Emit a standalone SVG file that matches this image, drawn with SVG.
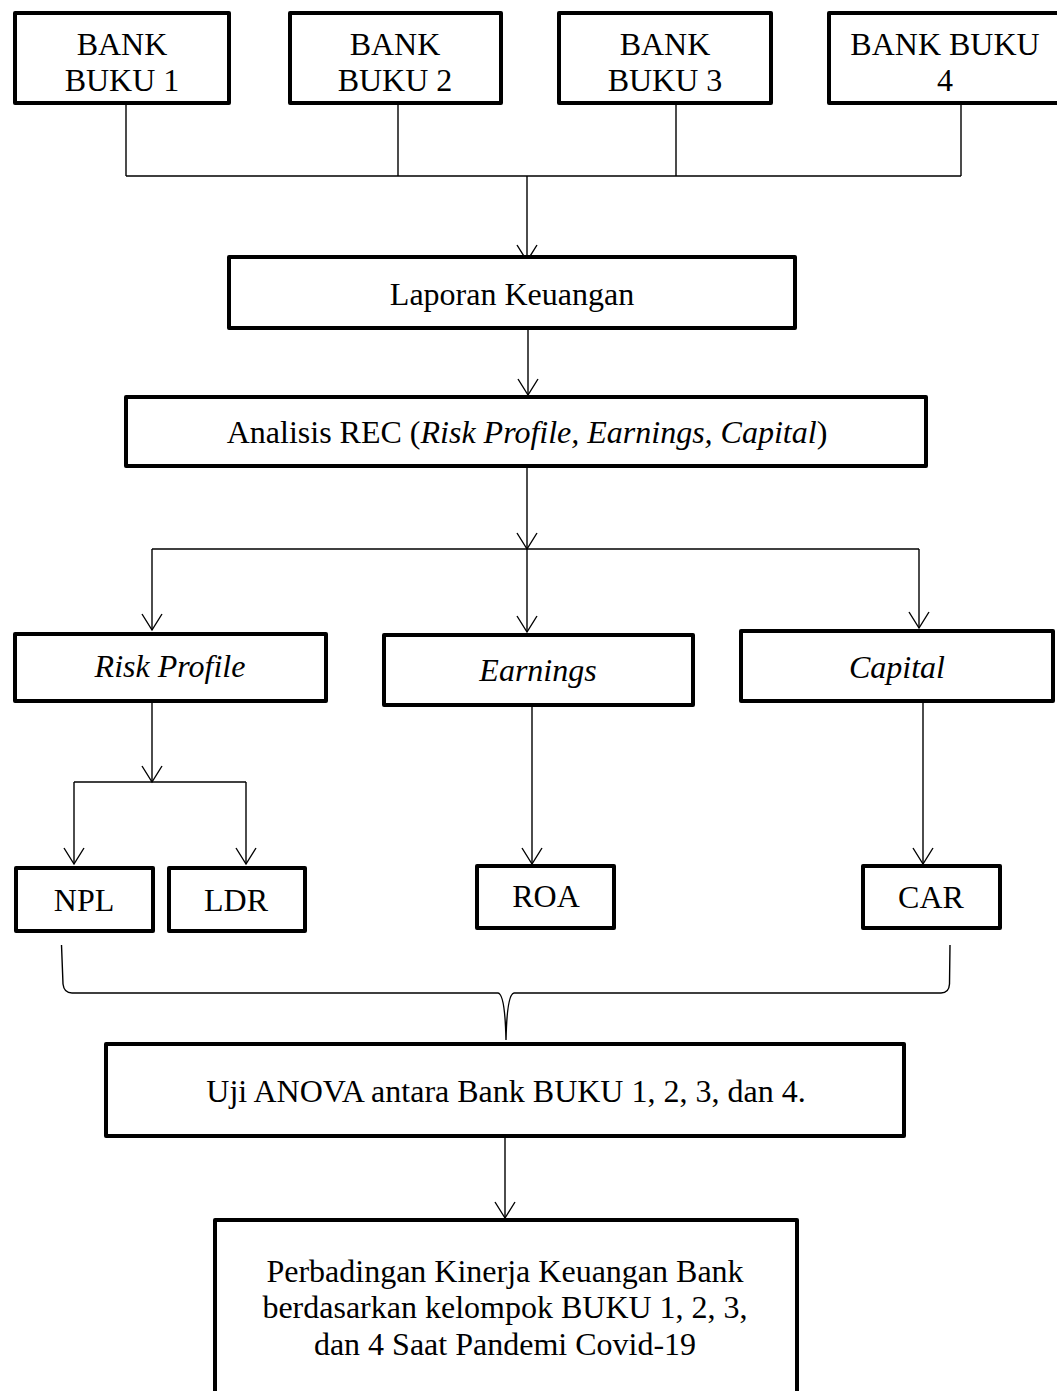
<svg xmlns="http://www.w3.org/2000/svg" width="1057" height="1391" viewBox="0 0 1057 1391">
<style>
.box{fill:#fff;stroke:#000;stroke-width:4;stroke-linejoin:round}
.t{font-family:"Liberation Serif","Times New Roman",serif;font-size:32px;fill:#000;text-anchor:middle}
.i{font-style:italic}
.c{fill:none;stroke:#000;stroke-width:1.4}
</style>
<defs>
<marker id="arr" markerUnits="userSpaceOnUse" markerWidth="20" markerHeight="24" refX="17" refY="11" orient="auto" viewBox="0 0 20 22">
<path d="M1,1 L17,11 L1,21" fill="none" stroke="#000" stroke-width="1.4"/>
</marker>
</defs>
<g id="connectors">
<path class="c" d="M126,105 V176 M398,105 V176 M676,105 V176 M961,105 V176 M126,176 H961"/>
<path class="c" d="M527,176 V261" marker-end="url(#arr)"/>
<path class="c" d="M528,330 V395" marker-end="url(#arr)"/>
<path class="c" d="M527,468 V549" marker-end="url(#arr)"/>
<path class="c" d="M152,549 H919"/>
<path class="c" d="M152,549 V630" marker-end="url(#arr)"/>
<path class="c" d="M527,549 V632" marker-end="url(#arr)"/>
<path class="c" d="M919,549 V628" marker-end="url(#arr)"/>
<path class="c" d="M152,703 V782" marker-end="url(#arr)"/>
<path class="c" d="M74,782 H246"/>
<path class="c" d="M74,782 V864" marker-end="url(#arr)"/>
<path class="c" d="M246,782 V864" marker-end="url(#arr)"/>
<path class="c" d="M532,702 V864" marker-end="url(#arr)"/>
<path class="c" d="M923,703 V864" marker-end="url(#arr)"/>
<path class="c" d="M61.5,945 L63,984 Q64,993 72,993 L498,993 Q505,994 506,1040 Q507,994 514,993 L941,993 Q949,993 949.5,984 L950,945"/>
<path class="c" d="M505,1138 V1218" marker-end="url(#arr)"/>
</g>
<g id="bank1"><rect class="box" x="15" y="13" width="214" height="90"/><text class="t" x="122" y="55">BANK</text><text class="t" x="122" y="91">BUKU 1</text></g>
<g id="bank2"><rect class="box" x="290" y="13" width="211" height="90"/><text class="t" x="395" y="55">BANK</text><text class="t" x="395" y="91">BUKU 2</text></g>
<g id="bank3"><rect class="box" x="559" y="13" width="212" height="90"/><text class="t" x="665" y="55">BANK</text><text class="t" x="665" y="91">BUKU 3</text></g>
<g id="bank4"><rect class="box" x="829" y="13" width="234" height="90"/><text class="t" x="945" y="55">BANK BUKU</text><text class="t" x="945" y="91">4</text></g>
<g id="laporan"><rect class="box" x="229" y="257" width="566" height="71"/><text class="t" x="512" y="305">Laporan Keuangan</text></g>
<g id="analisis"><rect class="box" x="126" y="397" width="800" height="69"/><text class="t" x="527" y="443">Analisis REC (<tspan class="i">Risk Profile, Earnings, Capital</tspan>)</text></g>
<g id="risk"><rect class="box" x="15" y="634" width="311" height="67"/><text class="t i" x="170" y="677">Risk Profile</text></g>
<g id="earnings"><rect class="box" x="384" y="635" width="309" height="70"/><text class="t i" x="538" y="681">Earnings</text></g>
<g id="capital"><rect class="box" x="741" y="631" width="312" height="70"/><text class="t i" x="897" y="678">Capital</text></g>
<g id="npl"><rect class="box" x="16" y="868" width="137" height="63"/><text class="t" x="84" y="911">NPL</text></g>
<g id="ldr"><rect class="box" x="169" y="868" width="136" height="63"/><text class="t" x="236" y="911">LDR</text></g>
<g id="roa"><rect class="box" x="477" y="866" width="137" height="62"/><text class="t" x="546" y="907">ROA</text></g>
<g id="car"><rect class="box" x="863" y="866" width="137" height="62"/><text class="t" x="931" y="908">CAR</text></g>
<g id="anova"><rect class="box" x="106" y="1044" width="798" height="92"/><text class="t" x="506" y="1102">Uji ANOVA antara Bank BUKU 1, 2, 3, dan 4.</text></g>
<g id="final"><rect class="box" x="215" y="1220" width="582" height="175"/><text class="t" x="505" y="1282">Perbadingan Kinerja Keuangan Bank</text><text class="t" x="505" y="1318">berdasarkan kelompok BUKU 1, 2, 3,</text><text class="t" x="505" y="1355">dan 4 Saat Pandemi Covid-19</text></g>
</svg>
